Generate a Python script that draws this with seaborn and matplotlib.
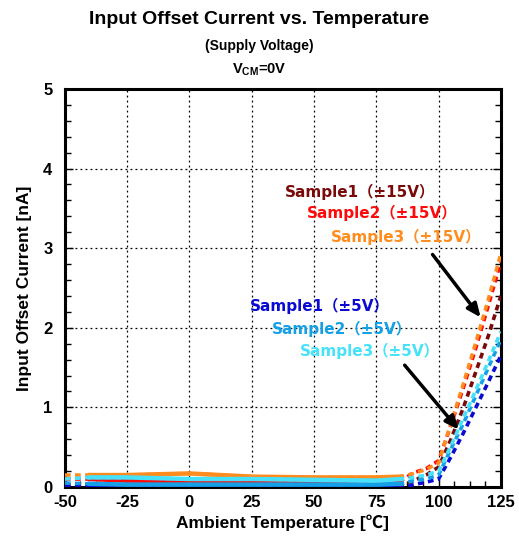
import numpy as np
import pandas as pd
import matplotlib
matplotlib.use("Agg")
import matplotlib.pyplot as plt
import seaborn as sns
from matplotlib.ticker import AutoMinorLocator, MultipleLocator

# Temperature points [degC]
temps = [-50, -40, -25, 0, 25, 50, 75, 85, 90, 95, 100, 105, 110, 115, 120, 125]

# Input offset current [nA]
s1_15v = [0.03, 0.03, 0.02, 0.02, 0.02, 0.01, -0.02, 0.00, 0.08, 0.15, 0.25, 0.60, 1.00, 1.45, 1.90, 2.40]
s2_15v = [0.10, 0.10, 0.08, 0.07, 0.06, 0.06, 0.06, 0.08, 0.18, 0.23, 0.33, 0.78, 1.25, 1.75, 2.28, 2.83]
s3_15v = [0.15, 0.15, 0.15, 0.17, 0.13, 0.12, 0.12, 0.13, 0.17, 0.22, 0.30, 0.80, 1.30, 1.82, 2.36, 2.93]
s1_5v = [0.01, 0.01, 0.01, 0.01, 0.01, 0.01, 0.00, -0.02, 0.03, 0.06, 0.10, 0.38, 0.68, 1.00, 1.32, 1.65]
s2_5v = [0.05, 0.04, 0.03, 0.03, 0.03, 0.03, 0.03, 0.04, 0.08, 0.10, 0.15, 0.48, 0.80, 1.15, 1.50, 1.85]
s3_5v = [0.10, 0.12, 0.12, 0.10, 0.10, 0.09, 0.08, 0.10, 0.12, 0.15, 0.20, 0.52, 0.87, 1.22, 1.58, 1.95]

labels = ["Sample1（±15V）", "Sample2（±15V）", "Sample3（±15V）",
          "Sample1（±5V）", "Sample2（±5V）", "Sample3（±5V）"]
series = [s1_15v, s2_15v, s3_15v, s1_5v, s2_5v, s3_5v]
colors = ["#7a0a0a", "#ff0a0a", "#ff8c1e", "#0a0ad2", "#14a0e6", "#46e1fa"]

plt.rcParams["font.family"] = ["Liberation Sans", "Noto Sans CJK JP", "DejaVu Sans"]
plt.rcParams["font.weight"] = "bold"
plt.rcParams["axes.unicode_minus"] = False
plt.rcParams["mathtext.fontset"] = "custom"
plt.rcParams["mathtext.bf"] = "Liberation Sans:bold"

fig = plt.figure(figsize=(5.19, 5.39), dpi=100)
ax = fig.add_axes([0.125, 0.0965, 0.84, 0.7385])

t = np.array(temps)
solid = (t >= -40) & (t <= 85)
for lab, vals, col in zip(labels, series, colors):
    df = pd.DataFrame({"temp": temps, "ios": vals})
    # dashed line across the whole range, solid across the measured middle part
    sns.lineplot(data=df, x="temp", y="ios", ax=ax, color=col, lw=2.6,
                 dashes=False, linestyle=(0, (1.6, 1.2)), zorder=3)
    sns.lineplot(data=df[solid], x="temp", y="ios", ax=ax, color=col, lw=3.2,
                 zorder=3)

ax.set_xlim(-50, 125)
ax.set_ylim(0, 5)
ax.xaxis.set_major_locator(MultipleLocator(25))
ax.yaxis.set_major_locator(MultipleLocator(1))
ax.xaxis.set_minor_locator(AutoMinorLocator(4))
ax.yaxis.set_minor_locator(AutoMinorLocator(5))
ax.grid(True, which="major", color="black", linestyle=(0, (1.5, 2.5)), lw=0.9)
ax.tick_params(which="both", direction="in", left=True, right=True, bottom=True, top=False,
               labelsize=12)
ax.tick_params(axis="x", pad=6)
ax.tick_params(axis="y", pad=9)
ax.tick_params(which="major", length=6, width=1)
ax.tick_params(which="minor", length=4, width=1)
for lbl in ax.get_xticklabels() + ax.get_yticklabels():
    lbl.set_fontweight("bold")
for sp in ax.spines.values():
    sp.set_linewidth(2.2)
    sp.set_color("black")

ax.set_xlabel("Ambient Temperature [℃]", fontsize=12.5, fontweight="bold", labelpad=3)
ax.set_ylabel("Input Offset Current [nA]", fontsize=12.5, fontweight="bold", labelpad=8)

fig.text(0.5, 0.963, "Input Offset Current vs. Temperature", ha="center", va="center",
         fontsize=14, fontweight="bold")
fig.text(0.5, 0.914, "(Supply Voltage)", ha="center", va="center", fontsize=10, fontweight="bold")
fig.text(0.5, 0.87, r"V$_{\mathbf{CM}}$=0V", ha="center", va="center", fontsize=10.5,
         fontweight="bold")

# series labels
label_pos = [(38.5, 3.71), (47.3, 3.44), (56.6, 3.14), (24.1, 2.28), (33.1, 1.99), (44.2, 1.71)]
for lab, col, (lx, ly) in zip(labels, colors, label_pos):
    ax.text(lx, ly, lab, color=col, fontsize=11, fontweight="bold", ha="left", va="center",
            family=["DejaVu Sans", "Noto Sans CJK JP"], zorder=5)

arrow = dict(arrowstyle="-|>,head_length=0.8,head_width=0.35", lw=2.5, color="black",
             shrinkA=0, shrinkB=0)
ax.annotate("", xy=(116.9, 2.13), xytext=(97.6, 2.92), arrowprops=arrow, zorder=6)
ax.annotate("", xy=(108.1, 0.72), xytext=(86.4, 1.53), arrowprops=arrow, zorder=6)

fig.savefig("out.png", dpi=100)
